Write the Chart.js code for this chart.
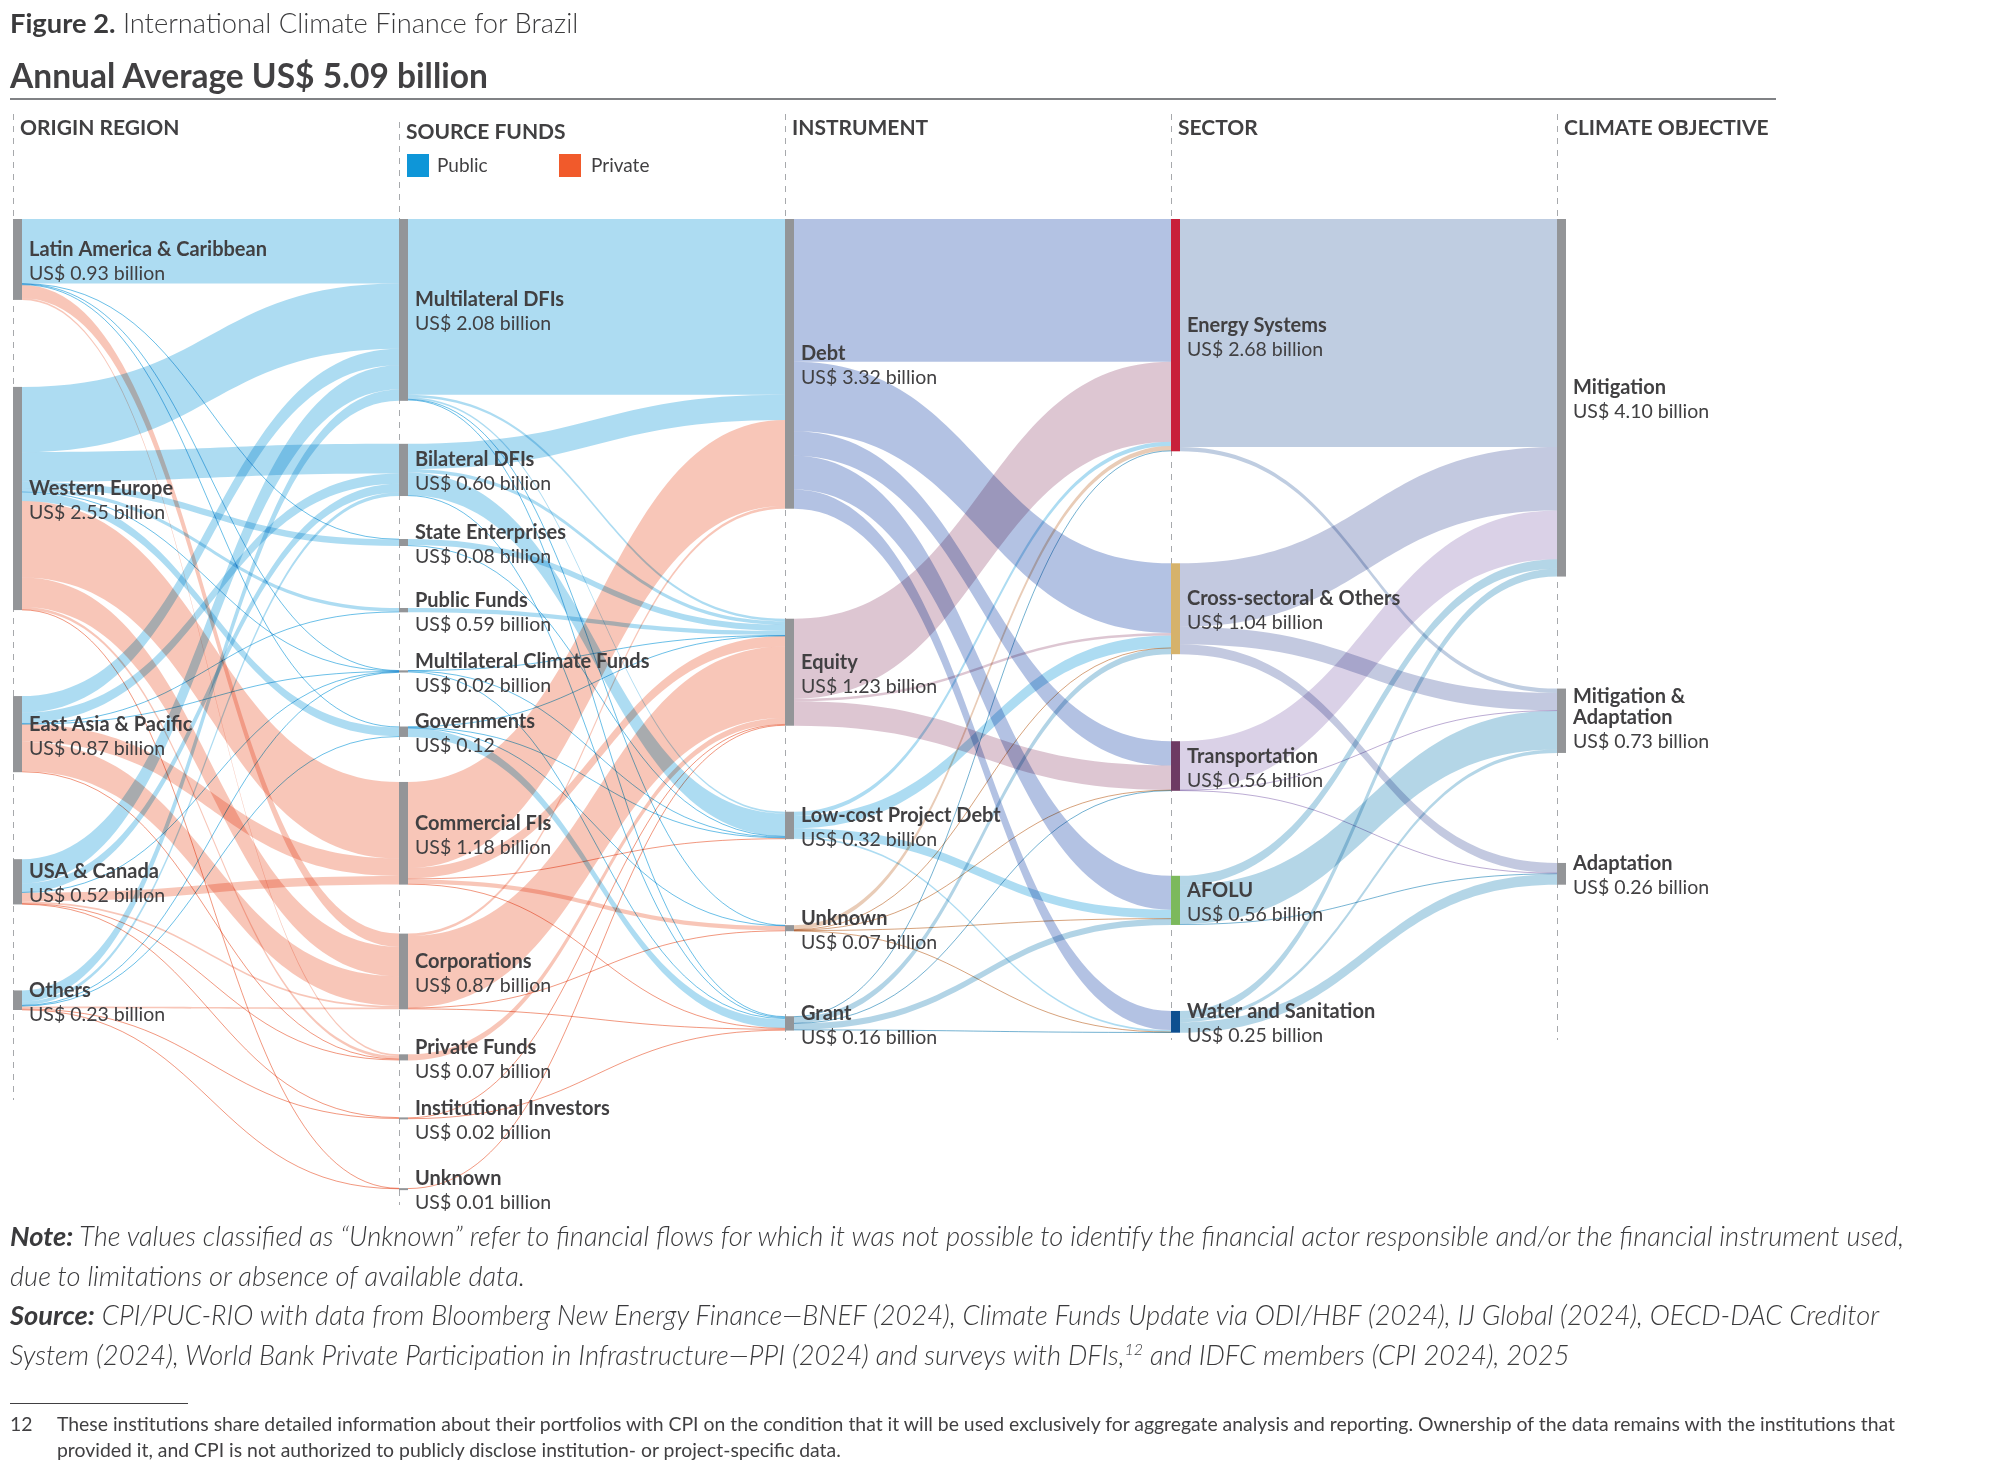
<!DOCTYPE html>
<html lang="en">
<head>
<meta charset="utf-8">
<title>International Climate Finance for Brazil</title>
<script src="https://cdn.jsdelivr.net/npm/chart.js@4.4.1/dist/chart.umd.min.js"></script>
<style>
html,body{margin:0;padding:0;background:#fff;}
body{width:2000px;height:1464px;position:relative;overflow:hidden;font-family:Lato,'Open Sans',sans-serif;color:#414042;}
#chartBox{position:absolute;left:0;top:0;width:2000px;height:1464px;}
.txt{position:absolute;white-space:nowrap;}
#fig{left:10px;top:7px;font-size:27.3px;line-height:32px;font-weight:300;color:#3a3a3c;}
#fig b{font-weight:700;}
#sub{left:10px;top:55px;font-size:33.5px;line-height:40px;font-weight:700;}
#rule{position:absolute;left:10px;top:98px;width:1766px;height:2px;background:#808285;}
#notes{left:10px;top:1216px;font-size:27.3px;line-height:39.5px;font-style:italic;font-weight:300;color:#3a3a3c;}
#notes b{font-weight:700;}
#notes sup{font-size:16px;line-height:0;vertical-align:super;}
#fnrule{position:absolute;left:10px;top:1403px;width:178px;height:1px;background:#414042;}
#fnnum{left:10px;top:1411px;font-size:19.4px;line-height:26px;}
#fn{left:57px;top:1411px;font-size:19.4px;line-height:26px;}
</style>
</head>
<body>
<div id="chartBox"><canvas id="sankey" width="2000" height="1464"></canvas></div>
<div class="txt" id="fig"><b>Figure 2.</b> International Climate Finance for Brazil</div>
<div class="txt" id="sub">Annual Average US$ 5.09 billion</div>
<div id="rule"></div>
<div class="txt" id="notes"><b>Note:</b> The values classified as “Unknown” refer to financial flows for which it was not possible to identify the financial actor responsible and/or the financial instrument used,<br>due to limitations or absence of available data.<br><b>Source:</b> CPI/PUC-RIO with data from Bloomberg New Energy Finance—BNEF (2024), Climate Funds Update via ODI/HBF (2024), IJ Global (2024), OECD-DAC Creditor<br>System (2024), World Bank Private Participation in Infrastructure—PPI (2024) and surveys with DFIs,<sup>12</sup> and IDFC members (CPI 2024), 2025</div>
<div id="fnrule"></div>
<div class="txt" id="fnnum">12</div>
<div class="txt" id="fn">These institutions share detailed information about their portfolios with CPI on the condition that it will be used exclusively for aggregate analysis and reporting. Ownership of the data remains with the institutions that<br>provided it, and CPI is not authorized to publicly disclose institution- or project-specific data.</div>

<script>
// ---------------- DATA ----------------
const columnTitles = ['ORIGIN REGION', 'SOURCE FUNDS', 'INSTRUMENT', 'SECTOR', 'CLIMATE OBJECTIVE'];

const originRegions = ['Latin America & Caribbean', 'Western Europe', 'East Asia & Pacific', 'USA & Canada', 'Others'];
const originValueLabels = ['US$ 0.93 billion', 'US$ 2.55 billion', 'US$ 0.87 billion', 'US$ 0.52 billion', 'US$ 0.23 billion'];

const sourceFunds = ['Multilateral DFIs', 'Bilateral DFIs', 'State Enterprises', 'Public Funds', 'Multilateral Climate Funds',
  'Governments', 'Commercial FIs', 'Corporations', 'Private Funds', 'Institutional Investors', 'Unknown'];
const sourceValueLabels = ['US$ 2.08 billion', 'US$ 0.60 billion', 'US$ 0.08 billion', 'US$ 0.59 billion', 'US$ 0.02 billion',
  'US$ 0.12', 'US$ 1.18 billion', 'US$ 0.87 billion', 'US$ 0.07 billion', 'US$ 0.02 billion', 'US$ 0.01 billion'];
const sourceFundType = ['public', 'public', 'public', 'public', 'public', 'public', 'private', 'private', 'private', 'private', 'private'];

const instruments = ['Debt', 'Equity', 'Low-cost Project Debt', 'Unknown', 'Grant'];
const instrumentValueLabels = ['US$ 3.32 billion', 'US$ 1.23 billion', 'US$ 0.32 billion', 'US$ 0.07 billion', 'US$ 0.16 billion'];

const sectors = ['Energy Systems', 'Cross-sectoral & Others', 'Transportation', 'AFOLU', 'Water and Sanitation'];
const sectorValueLabels = ['US$ 2.68 billion', 'US$ 1.04 billion', 'US$ 0.56 billion', 'US$ 0.56 billion', 'US$ 0.25 billion'];

const objectives = ['Mitigation', 'Mitigation &\nAdaptation', 'Adaptation'];
const objectiveValueLabels = ['US$ 4.10 billion', 'US$ 0.73 billion', 'US$ 0.26 billion'];

// flows, US$ billion
const originToSource = [
  ['Latin America & Caribbean', 'Multilateral DFIs', 0.74],
  ['Latin America & Caribbean', 'State Enterprises', 0.005],
  ['Latin America & Caribbean', 'Multilateral Climate Funds', 0.005],
  ['Latin America & Caribbean', 'Governments', 0.01],
  ['Latin America & Caribbean', 'Corporations', 0.15],
  ['Latin America & Caribbean', 'Private Funds', 0.02],
  ['Western Europe', 'Multilateral DFIs', 0.75],
  ['Western Europe', 'Bilateral DFIs', 0.34],
  ['Western Europe', 'State Enterprises', 0.075],
  ['Western Europe', 'Public Funds', 0.04],
  ['Western Europe', 'Multilateral Climate Funds', 0.005],
  ['Western Europe', 'Governments', 0.10],
  ['Western Europe', 'Commercial FIs', 0.88],
  ['Western Europe', 'Corporations', 0.34],
  ['Western Europe', 'Private Funds', 0.03],
  ['Western Europe', 'Unknown', 0.005],
  ['East Asia & Pacific', 'Multilateral DFIs', 0.19],
  ['East Asia & Pacific', 'Bilateral DFIs', 0.12],
  ['East Asia & Pacific', 'Public Funds', 0.01],
  ['East Asia & Pacific', 'Multilateral Climate Funds', 0.005],
  ['East Asia & Pacific', 'Commercial FIs', 0.20],
  ['East Asia & Pacific', 'Corporations', 0.34],
  ['East Asia & Pacific', 'Private Funds', 0.01],
  ['USA & Canada', 'Multilateral DFIs', 0.28],
  ['USA & Canada', 'Bilateral DFIs', 0.10],
  ['USA & Canada', 'Multilateral Climate Funds', 0.005],
  ['USA & Canada', 'Commercial FIs', 0.10],
  ['USA & Canada', 'Corporations', 0.02],
  ['USA & Canada', 'Private Funds', 0.01],
  ['USA & Canada', 'Institutional Investors', 0.005],
  ['Others', 'Multilateral DFIs', 0.13],
  ['Others', 'Bilateral DFIs', 0.04],
  ['Others', 'Multilateral Climate Funds', 0.005],
  ['Others', 'Governments', 0.01],
  ['Others', 'Corporations', 0.02],
  ['Others', 'Institutional Investors', 0.015],
  ['Others', 'Unknown', 0.005]
];

const sourceToInstrument = [
  ['Multilateral DFIs', 'Debt', 2.02],
  ['Multilateral DFIs', 'Equity', 0.03],
  ['Multilateral DFIs', 'Low-cost Project Debt', 0.02],
  ['Multilateral DFIs', 'Unknown', 0.005],
  ['Multilateral DFIs', 'Grant', 0.01],
  ['Bilateral DFIs', 'Debt', 0.29],
  ['Bilateral DFIs', 'Equity', 0.04],
  ['Bilateral DFIs', 'Low-cost Project Debt', 0.26],
  ['Bilateral DFIs', 'Grant', 0.01],
  ['State Enterprises', 'Equity', 0.07],
  ['State Enterprises', 'Low-cost Project Debt', 0.01],
  ['Public Funds', 'Equity', 0.05],
  ['Multilateral Climate Funds', 'Equity', 0.005],
  ['Multilateral Climate Funds', 'Low-cost Project Debt', 0.005],
  ['Multilateral Climate Funds', 'Grant', 0.015],
  ['Governments', 'Equity', 0.005],
  ['Governments', 'Low-cost Project Debt', 0.01],
  ['Governments', 'Unknown', 0.005],
  ['Governments', 'Grant', 0.10],
  ['Commercial FIs', 'Debt', 0.99],
  ['Commercial FIs', 'Equity', 0.12],
  ['Commercial FIs', 'Low-cost Project Debt', 0.01],
  ['Commercial FIs', 'Unknown', 0.05],
  ['Commercial FIs', 'Grant', 0.01],
  ['Corporations', 'Debt', 0.03],
  ['Corporations', 'Equity', 0.82],
  ['Corporations', 'Unknown', 0.01],
  ['Corporations', 'Grant', 0.01],
  ['Private Funds', 'Equity', 0.07],
  ['Institutional Investors', 'Equity', 0.01],
  ['Institutional Investors', 'Grant', 0.01],
  ['Unknown', 'Equity', 0.01]
];

const instrumentToSector = [
  ['Debt', 'Energy Systems', 1.64],
  ['Debt', 'Cross-sectoral & Others', 0.80],
  ['Debt', 'Transportation', 0.28],
  ['Debt', 'AFOLU', 0.39],
  ['Debt', 'Water and Sanitation', 0.22],
  ['Equity', 'Energy Systems', 0.92],
  ['Equity', 'Cross-sectoral & Others', 0.03],
  ['Equity', 'Transportation', 0.28],
  ['Low-cost Project Debt', 'Energy Systems', 0.05],
  ['Low-cost Project Debt', 'Cross-sectoral & Others', 0.14],
  ['Low-cost Project Debt', 'AFOLU', 0.10],
  ['Low-cost Project Debt', 'Water and Sanitation', 0.02],
  ['Unknown', 'Energy Systems', 0.05],
  ['Unknown', 'Cross-sectoral & Others', 0.005],
  ['Unknown', 'Transportation', 0.005],
  ['Unknown', 'AFOLU', 0.005],
  ['Unknown', 'Water and Sanitation', 0.005],
  ['Grant', 'Energy Systems', 0.01],
  ['Grant', 'Cross-sectoral & Others', 0.07],
  ['Grant', 'Transportation', 0.005],
  ['Grant', 'AFOLU', 0.07],
  ['Grant', 'Water and Sanitation', 0.005]
];

const sectorToObjective = [
  ['Energy Systems', 'Mitigation', 2.62],
  ['Energy Systems', 'Mitigation &\nAdaptation', 0.05],
  ['Cross-sectoral & Others', 'Mitigation', 0.73],
  ['Cross-sectoral & Others', 'Mitigation &\nAdaptation', 0.20],
  ['Cross-sectoral & Others', 'Adaptation', 0.115],
  ['Transportation', 'Mitigation', 0.56],
  ['Transportation', 'Mitigation &\nAdaptation', 0.005],
  ['Transportation', 'Adaptation', 0.005],
  ['AFOLU', 'Mitigation', 0.11],
  ['AFOLU', 'Mitigation &\nAdaptation', 0.445],
  ['AFOLU', 'Adaptation', 0.01],
  ['Water and Sanitation', 'Mitigation', 0.09],
  ['Water and Sanitation', 'Mitigation &\nAdaptation', 0.04],
  ['Water and Sanitation', 'Adaptation', 0.12]
];

// ---------------- STYLE / LAYOUT ----------------
const PX_PER_BILLION = 87;          // vertical scale of the flows
const AREA_TOP = 219, AREA_HEIGHT = 1000;
const NODE_W = 9;
const nodeGapsPx = [                 // vertical spacing between nodes of each column
  [87, 86, 87, 86],
  [43, 43, 62, 58, 54, 45, 49, 45, 57, 69],
  [110, 86, 86, 85],
  [112, 87, 85, 86],
  [112, 110]
];
const dashEnds = [1100, 1205, 1040, 1040, 1040];
const TEXT = '#414042';
const NODE_GRAY = '#939598';
const PUBLIC_FILL = [173, 220, 242], PRIVATE_FILL = [248, 198, 184];
const instrumentFill = [[179, 194, 227], [221, 198, 210], [173, 220, 242], [233, 204, 183], [178, 212, 230]];
const sectorFill = [[191, 205, 225], [195, 201, 224], [218, 209, 231], [180, 214, 231], [180, 214, 231]];
const sectorNodeColors = ['#c8203a', '#d6b26b', '#6d3a63', '#7cb95c', '#0d4f90'];
const LEGEND_PUBLIC = '#0e96d8', LEGEND_PRIVATE = '#f15a2b';

// ---------------- GRAPH BUILD ----------------
const columnNames = [originRegions, sourceFunds, instruments, sectors, objectives];
const columnValueLabels = [originValueLabels, sourceValueLabels, instrumentValueLabels, sectorValueLabels, objectiveValueLabels];
const layers = [originToSource, sourceToInstrument, instrumentToSector, sectorToObjective];

const cols = columnNames.map((names, ci) => names.map((n, i) => ({
  name: n, label: columnValueLabels[ci][i], col: ci, idx: i, inL: [], outL: [], sumIn: 0, sumOut: 0
})));
const allLinks = [];
layers.forEach((links, li) => {
  links.forEach(([s, t, v]) => {
    const sn = cols[li].find(n => n.name === s);
    const tn = cols[li + 1].find(n => n.name === t);
    const link = { s: sn, t: tn, v: v, layer: li };
    sn.outL.push(link); tn.inL.push(link);
    sn.sumOut += v; tn.sumIn += v;
    allLinks.push(link);
  });
});
cols.forEach((c, ci) => {
  let acc = 0;
  c.forEach((n, i) => {
    n.value = Math.max(n.sumIn, n.sumOut);
    if (i > 0) acc += nodeGapsPx[ci][i - 1] / PX_PER_BILLION;
    n.y0 = acc; n.y1 = acc + n.value; acc = n.y1;
    n.outL.sort((a, b) => a.t.idx - b.t.idx);
    n.inL.sort((a, b) => a.s.idx - b.s.idx);
    let o = n.y0; n.outL.forEach(l => { l.sy = o; o += l.v; });
    let q = n.y0; n.inL.forEach(l => { l.ty = q; q += l.v; });
  });
});

function linkFill(l) {
  if (l.layer === 0) return sourceFundType[l.t.idx] === 'public' ? PUBLIC_FILL : PRIVATE_FILL;
  if (l.layer === 1) return sourceFundType[l.s.idx] === 'public' ? PUBLIC_FILL : PRIVATE_FILL;
  if (l.layer === 2) return instrumentFill[l.s.idx];
  return sectorFill[l.s.idx];
}
const rgb = c => `rgb(${c[0]},${c[1]},${c[2]})`;
const strong = c => `rgb(${c.map(v => Math.round(v - (255 - v) * 0.8)).join(',')})`;
function nodeColor(n) { return n.col === 3 ? sectorNodeColors[n.idx] : NODE_GRAY; }

// ---------------- DRAW PLUGIN ----------------
const sankeyPlugin = {
  id: 'sankeyDraw',
  beforeDraw(chart) {
    const ctx = chart.ctx;
    ctx.save(); ctx.fillStyle = '#fff'; ctx.fillRect(0, 0, chart.width, chart.height); ctx.restore();
  },
  beforeDatasetsDraw(chart) {
    const { ctx, scales: { x, y } } = chart;
    ctx.save();
    // dashed column guides
    ctx.strokeStyle = '#a7a9ac'; ctx.lineWidth = 1; ctx.setLineDash([6, 6]);
    cols.forEach((c, ci) => {
      const px = Math.round(x.getPixelForValue(ci)) + 0.5;
      ctx.beginPath(); ctx.moveTo(px, ci === 1 ? 122 : 114); ctx.lineTo(px, dashEnds[ci]); ctx.stroke();
    });
    ctx.setLineDash([]);
    // flows
    ctx.globalCompositeOperation = 'multiply';
    allLinks.forEach(l => {
      const x0 = x.getPixelForValue(l.s.col) + NODE_W, x1 = x.getPixelForValue(l.t.col);
      const xm = (x0 + x1) / 2;
      const s0 = y.getPixelForValue(l.sy), s1 = y.getPixelForValue(l.sy + l.v);
      const t0 = y.getPixelForValue(l.ty), t1 = y.getPixelForValue(l.ty + l.v);
      const col = linkFill(l);
      if (s1 - s0 < 1.6) {
        const sm = (s0 + s1) / 2, tm = (t0 + t1) / 2;
        ctx.beginPath(); ctx.moveTo(x0, sm); ctx.bezierCurveTo(xm, sm, xm, tm, x1, tm);
        ctx.strokeStyle = strong(col); ctx.lineWidth = 1; ctx.stroke();
      } else {
        ctx.beginPath();
        ctx.moveTo(x0, s0); ctx.bezierCurveTo(xm, s0, xm, t0, x1, t0);
        ctx.lineTo(x1, t1); ctx.bezierCurveTo(xm, t1, xm, s1, x0, s1);
        ctx.closePath(); ctx.fillStyle = rgb(col); ctx.fill();
      }
    });
    ctx.globalCompositeOperation = 'source-over';
    // nodes
    cols.forEach(c => c.forEach(n => {
      const px = x.getPixelForValue(n.col);
      const top = y.getPixelForValue(n.y0), bot = y.getPixelForValue(n.y1);
      ctx.fillStyle = nodeColor(n);
      ctx.fillRect(px, top, NODE_W, Math.max(2, bot - top));
    }));
    ctx.restore();
  },
  afterDatasetsDraw(chart) {
    const { ctx, scales: { x, y } } = chart;
    ctx.save();
    ctx.fillStyle = TEXT; ctx.textBaseline = 'alphabetic'; ctx.textAlign = 'left';
    // node labels
    cols.forEach(c => c.forEach(n => {
      const lx = x.getPixelForValue(n.col) + NODE_W + 7;
      const cy = (y.getPixelForValue(n.y0) + y.getPixelForValue(n.y1)) / 2;
      const lines = n.name.split('\n');
      ctx.font = 'bold 20px Lato';
      if (lines.length === 1) {
        ctx.fillText(lines[0], lx, cy - 3.5);
        ctx.font = '19.5px Lato'; ctx.fillText(n.label, lx, cy + 20.5);
      } else {
        ctx.fillText(lines[0], lx, cy - 18);
        ctx.fillText(lines[1], lx, cy + 3);
        ctx.font = '19.5px Lato'; ctx.fillText(n.label, lx, cy + 27);
      }
    }));
    // column headers
    ctx.font = 'bold 21px Lato';
    columnTitles.forEach((t, ci) => ctx.fillText(t, x.getPixelForValue(ci) + 7, ci === 1 ? 139 : 135));
    // legend
    const lx = x.getPixelForValue(1) + 8;
    ctx.fillStyle = LEGEND_PUBLIC; ctx.fillRect(lx, 154, 22, 23);
    ctx.fillStyle = LEGEND_PRIVATE; ctx.fillRect(lx + 152, 154, 22, 23);
    ctx.fillStyle = TEXT; ctx.font = '19px Lato';
    ctx.fillText('Public', lx + 30, 172);
    ctx.fillText('Private', lx + 184, 172);
    ctx.restore();
  }
};

// invisible anchor points at node centres keep the chart bound to its scales
const nodeCentres = [];
cols.forEach(c => c.forEach(n => nodeCentres.push({ x: n.col, y: (n.y0 + n.y1) / 2 })));

function draw() {
  new Chart(document.getElementById('sankey'), {
    type: 'scatter',
    data: { datasets: [{ data: nodeCentres, pointRadius: 0, pointHoverRadius: 0 }] },
    options: {
      responsive: false, animation: false, devicePixelRatio: 1,
      layout: { padding: { left: 13, right: 2000 - 13 - 4 * 386, top: AREA_TOP, bottom: 1464 - AREA_TOP - AREA_HEIGHT } },
      scales: {
        x: { type: 'linear', min: 0, max: 4, display: false },
        y: { type: 'linear', min: 0, max: AREA_HEIGHT / PX_PER_BILLION, reverse: true, display: false }
      },
      plugins: { legend: { display: false }, tooltip: { enabled: false } },
      events: []
    },
    plugins: [sankeyPlugin]
  });
}
const fontsReady = (document.fonts && document.fonts.load)
  ? Promise.all(['bold 20px Lato', '19.5px Lato', 'bold 21px Lato'].map(f => document.fonts.load(f))).catch(() => {})
  : Promise.resolve();
Promise.race([fontsReady, new Promise(r => setTimeout(r, 800))]).then(draw);
</script>
</body>
</html>
